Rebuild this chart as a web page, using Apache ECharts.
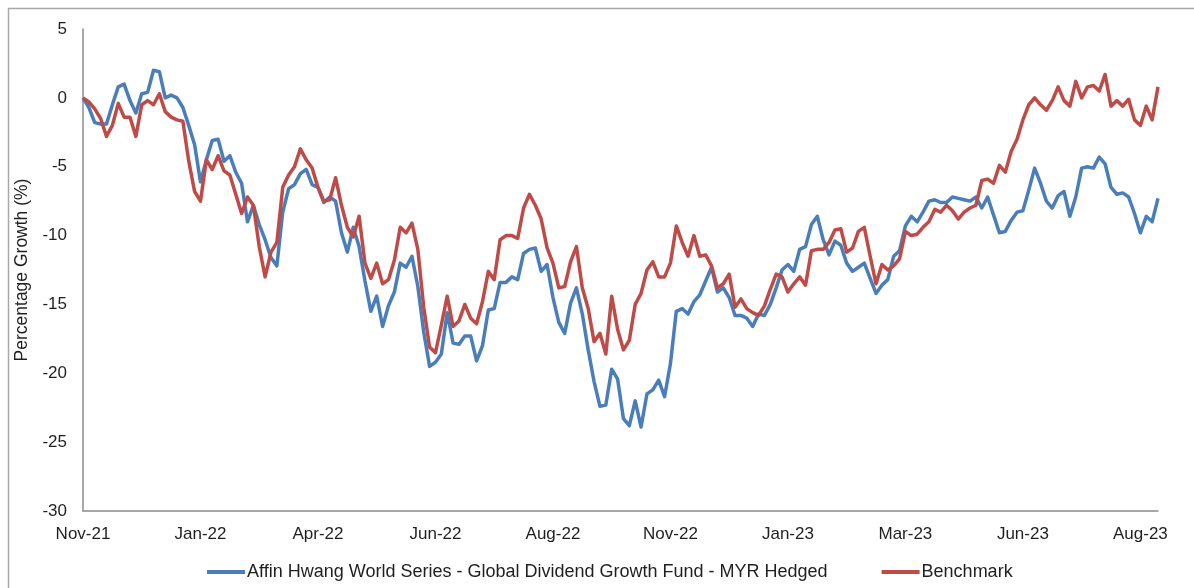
<!DOCTYPE html>
<html>
<head>
<meta charset="utf-8">
<title>Percentage Growth</title>
<script src="https://cdn.jsdelivr.net/npm/echarts@6/dist/echarts.min.js"></script>
<style>
  html, body { margin: 0; padding: 0; background: #ffffff; }
  #chart { width: 1194px; height: 588px; }
</style>
</head>
<body>
<div id="chart"></div>
<script>
// Tick labels shown along the time axis, one every LABEL_STEP observations
const tickLabels = ['Nov-21', 'Jan-22', 'Apr-22', 'Jun-22', 'Aug-22', 'Nov-22', 'Jan-23', 'Mar-23', 'Jun-23', 'Aug-23'];
const LABEL_STEP = 20;

// Cumulative percentage growth of the fund (MYR Hedged class)
const fund = [
  0, -0.7, -1.8, -1.9, -1.9, -0.5, 0.8, 1.0, -0.2, -1.1,
  0.3, 0.4, 2.0, 1.9, 0.0, 0.2, 0.0, -0.7, -2.0, -3.4,
  -6.1, -4.5, -3.1, -3.0, -4.6, -4.2, -5.4, -6.2, -9.0, -7.8,
  -9.2, -10.3, -11.6, -12.2, -8.3, -6.6, -6.3, -5.5, -5.2, -6.3,
  -6.5, -7.6, -7.2, -7.5, -9.8, -11.2, -9.4, -10.8, -13.3, -15.5,
  -14.4, -16.6, -15.1, -14.1, -12.0, -12.3, -11.5, -13.7, -17.0, -19.5,
  -19.2, -18.6, -15.6, -17.8, -17.9, -17.3, -17.3, -19.1, -18.0, -15.4,
  -15.3, -13.4, -13.4, -13.0, -13.2, -11.3, -11.0, -10.9, -12.6, -12.1,
  -14.5, -16.3, -17.1, -14.9, -13.8, -15.7, -18.3, -20.6, -22.4, -22.3,
  -19.7, -20.4, -23.3, -23.8, -22.0, -23.9, -21.5, -21.2, -20.5, -21.7,
  -19.3, -15.5, -15.3, -15.7, -14.8, -14.3, -13.3, -12.3, -14.1, -13.8,
  -14.5, -15.8, -15.8, -16.0, -16.6, -15.7, -15.8, -15.0, -13.8, -12.5,
  -12.1, -12.6, -11.0, -10.8, -9.2, -8.6, -10.3, -11.4, -10.4, -10.7,
  -12.0, -12.6, -12.3, -12.0, -13.1, -14.2, -13.6, -13.2, -11.5, -11.1,
  -9.3, -8.6, -9.0, -8.3, -7.5, -7.4, -7.6, -7.6, -7.2, -7.3,
  -7.4, -7.5, -7.2, -8.0, -7.2, -8.5, -9.8, -9.7, -8.9, -8.3,
  -8.2, -6.7, -5.1, -6.2, -7.5, -8.0, -7.1, -6.8, -8.6, -7.2,
  -5.1, -5.0, -5.1, -4.3, -4.8, -6.5, -7.0, -6.9, -7.2, -8.4,
  -9.8, -8.6, -9.0, -7.3
];

// Cumulative percentage growth of the benchmark
const benchmark = [
  0, -0.3, -0.8, -1.5, -2.8, -2.0, -0.4, -1.4, -1.4, -2.8,
  -0.5, -0.2, -0.5, 0.3, -1.0, -1.4, -1.6, -1.7, -4.6, -6.8,
  -7.5, -4.5, -5.2, -4.2, -5.3, -5.6, -7.0, -8.4, -7.2, -7.8,
  -10.8, -13.0, -11.2, -10.5, -6.5, -5.6, -5.0, -3.7, -4.5, -5.1,
  -6.5, -7.5, -7.4, -5.8, -7.8, -9.4, -10.1, -8.6, -12.0, -13.1,
  -12.0, -13.5, -13.2, -11.8, -9.4, -9.8, -9.1, -11.0, -15.2, -18.1,
  -18.5, -16.5, -14.4, -16.6, -16.2, -15.0, -16.0, -16.4, -14.8, -12.6,
  -13.2, -10.3, -10.0, -10.0, -10.2, -8.0, -7.0, -7.8, -8.8, -10.9,
  -12.0, -13.8, -13.7, -11.9, -10.8, -13.8, -15.3, -17.7, -17.1, -18.6,
  -14.4, -16.8, -18.3, -17.6, -15.0, -14.2, -12.5, -11.9, -13.0, -13.0,
  -12.0, -9.3, -10.5, -11.5, -10.0, -11.5, -11.4, -12.2, -13.8, -13.5,
  -12.8, -15.2, -14.6, -15.3, -15.6, -15.8, -15.1, -13.9, -12.8, -13.0,
  -14.1, -13.5, -13.0, -13.6, -11.1, -11.0, -11.0, -10.5, -9.6, -9.5,
  -11.2, -10.9, -9.7, -9.4, -11.5, -13.5, -12.1, -12.5, -12.2, -11.7,
  -9.7, -10.0, -9.9, -9.4, -9.0, -8.1, -8.3, -7.8, -8.2, -8.8,
  -8.3, -8.0, -7.8, -6.0, -5.9, -6.2, -4.9, -5.4, -3.9, -3.0,
  -1.6, -0.5, 0.0, -0.5, -0.9, -0.2, 0.8, -0.2, -0.6, 1.2,
  0.0, 0.8, 0.9, 0.5, 1.7, -0.6, -0.2, -0.6, -0.1, -1.6,
  -2.0, -0.6, -1.6, 0.8
];

const seriesNames = [
  'Affin Hwang World Series - Global Dividend Growth Fund - MYR Hedged',
  'Benchmark'
];

// One category per observation; labels come from tickLabels
const categories = fund.map((_, i) => String(i));

const FONT = '"Liberation Sans", Arial, sans-serif';
const TEXT_COLOR = '#1f1f1f';
const AXIS_COLOR = '#8c8c8c';

const chart = echarts.init(document.getElementById('chart'), null, { renderer: 'canvas' });

chart.setOption({
  animation: false,
  backgroundColor: '#ffffff',
  textStyle: { fontFamily: FONT },
  graphic: [{
    type: 'rect',
    silent: true,
    shape: { x: 8.5, y: 8.5, width: 1200, height: 600 },
    style: { fill: 'none', stroke: '#a8a8a8', lineWidth: 1.5 }
  }],
  grid: { left: 83, right: 36, top: 29, bottom: 77, containLabel: false },
  legend: {
    left: 202,
    top: 558,
    itemWidth: 38,
    itemHeight: 4,
    itemGap: 54,
    icon: 'rect',
    textStyle: { fontFamily: FONT, fontSize: 18, color: TEXT_COLOR, padding: [0, 0, 0, -3] },
    data: seriesNames
  },
  xAxis: {
    type: 'category',
    data: categories,
    boundaryGap: false,
    axisLine: { show: true, onZero: false, lineStyle: { color: AXIS_COLOR, width: 1.5 } },
    axisTick: { show: false },
    splitLine: { show: false },
    axisLabel: {
      interval: LABEL_STEP - 1,
      margin: 15,
      fontFamily: FONT,
      fontSize: 17,
      color: TEXT_COLOR,
      formatter: (value, index) => tickLabels[index / LABEL_STEP] || ''
    }
  },
  yAxis: {
    type: 'value',
    min: -30,
    max: 5,
    interval: 5,
    name: 'Percentage Growth (%)',
    nameLocation: 'middle',
    nameGap: 51,
    nameTextStyle: { fontFamily: FONT, fontSize: 17.5, color: TEXT_COLOR },
    axisLine: { show: true, lineStyle: { color: AXIS_COLOR, width: 1.5 } },
    axisTick: { show: false },
    splitLine: { show: false },
    axisLabel: { margin: 16, fontFamily: FONT, fontSize: 17, color: TEXT_COLOR }
  },
  series: [
    {
      name: seriesNames[0],
      type: 'line',
      data: fund,
      symbol: 'none',
      color: '#4a7ebb',
      lineStyle: { width: 3.5, color: '#4a7ebb', join: 'round' }
    },
    {
      name: seriesNames[1],
      type: 'line',
      data: benchmark,
      symbol: 'none',
      color: '#be4b48',
      lineStyle: { width: 3.5, color: '#be4b48', join: 'round' }
    }
  ]
});
</script>
</body>
</html>
